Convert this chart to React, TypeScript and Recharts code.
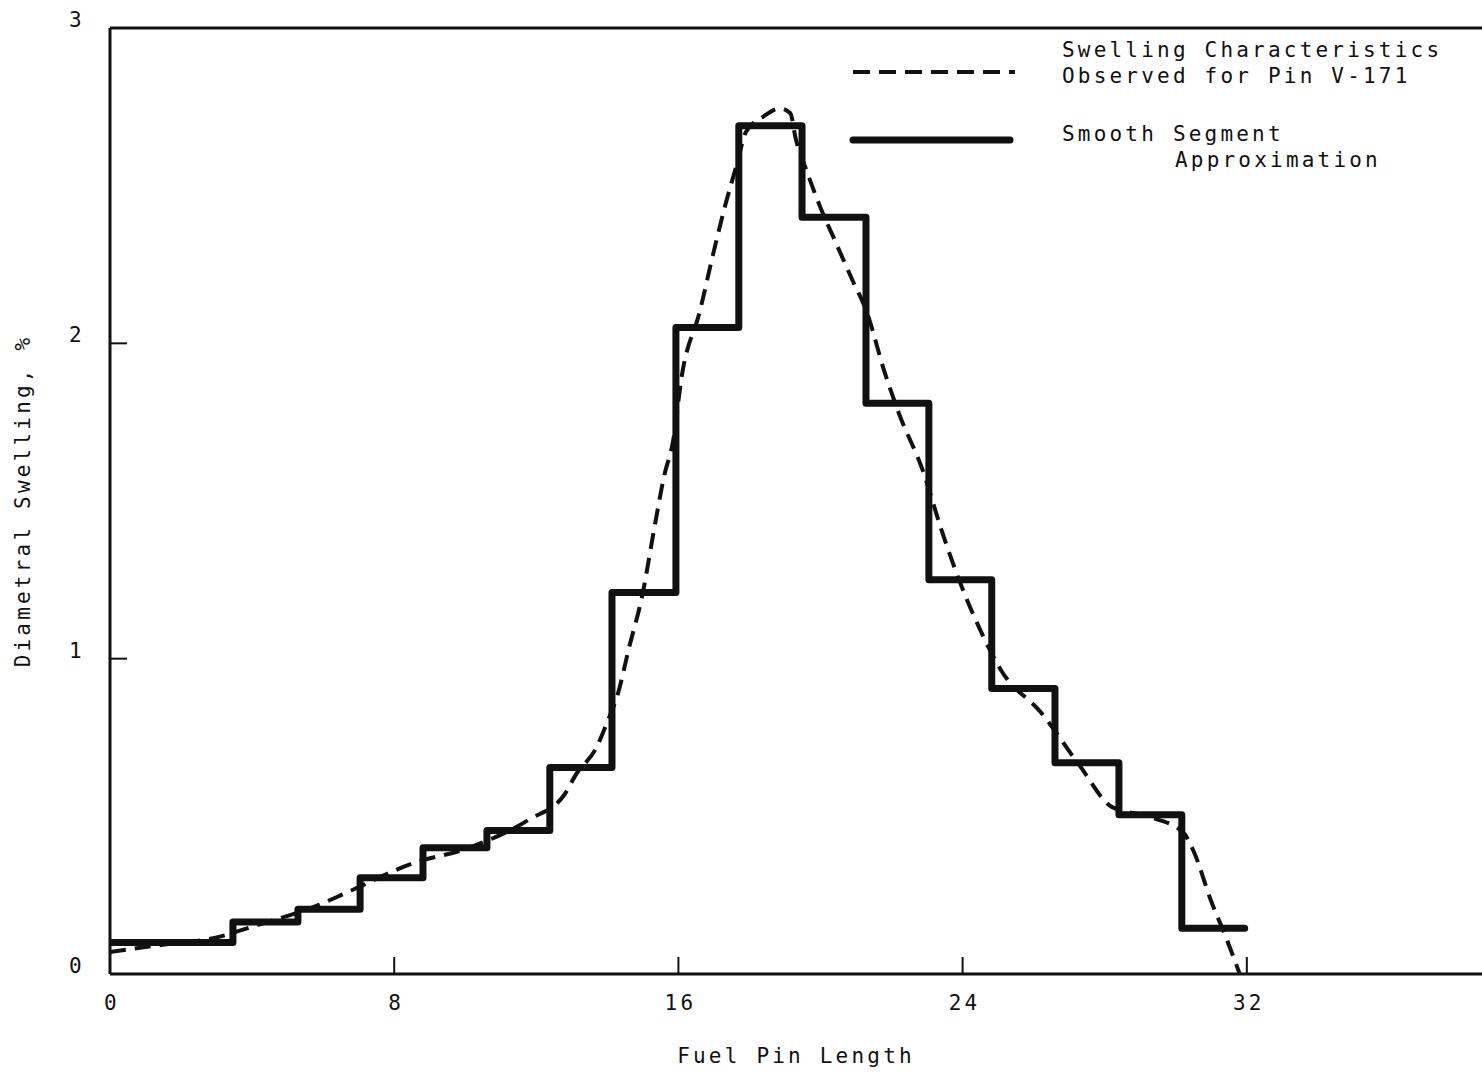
import React from "react"
import { LineChart, Line, XAxis, YAxis, ReferenceLine, Legend, Label } from "recharts"

const FONT = '"DejaVu Sans Mono", monospace'
const INK = "#111"

// Swelling measured along pin V-171 (length, % diametral swelling)
const observedLength = [
  0, 1.3, 3.15, 4.0, 5.9, 6.7, 8.5, 10.1, 11.8, 12.8, 13.1, 13.7, 14.0, 14.3, 14.6, 15.0, 15.3, 15.6,
  15.85, 16.1, 16.6, 16.95, 17.3, 17.65, 17.9, 18.4, 18.85, 19.15, 19.3, 19.6, 20.0, 20.35, 20.9, 21.3,
  21.8, 22.2, 22.9, 23.4, 23.9, 24.5, 25.1, 26.2, 27.3, 28.2, 29.2, 30.2, 30.5, 31.0, 31.4, 31.8,
]
const observedSwelling = [
  0.07, 0.09, 0.12, 0.15, 0.22, 0.26, 0.35, 0.4, 0.49, 0.57, 0.63, 0.72, 0.8, 0.89, 1.03, 1.21, 1.4, 1.58,
  1.69, 1.9, 2.1, 2.27, 2.43, 2.57, 2.67, 2.72, 2.745, 2.73, 2.65, 2.55, 2.43, 2.34, 2.2, 2.1,
  1.91, 1.78, 1.59, 1.41, 1.25, 1.09, 0.96, 0.83, 0.66, 0.53, 0.5, 0.45, 0.39, 0.23, 0.12, 0,
]

// Segment approximation: each level holds from its start to the next start
const segmentStart = [
  0, 3.46, 5.29, 7.04, 8.81, 10.61, 12.38, 14.13, 15.93, 17.7, 19.48, 21.28, 23.05, 24.82, 26.6, 28.4, 30.17, 31.94,
]
const segmentLevel = [
  0.1, 0.165, 0.205, 0.305, 0.4, 0.455, 0.655, 1.21, 2.05, 2.69, 2.4, 1.81, 1.25, 0.905, 0.67, 0.505, 0.145, 0.145,
]

const lengthTicks = [0, 8, 16, 24, 32]
const swellingTicks = [0, 1, 2, 3]

const observedData = observedLength.map((x, i) => ({ x, y: observedSwelling[i] }))
const segmentData = segmentStart.map((x, i) => ({ x, y: segmentLevel[i] }))

const textStyle = { fontFamily: FONT, fontSize: 21, letterSpacing: 3.2, fill: INK }

// ticks point into the plot, labels sit outside
const LengthTick = ({ x, y, payload }: any) => (
  <g>
    <line x1={x} y1={y} x2={x} y2={y - 17} stroke={INK} strokeWidth={2} />
    <text x={x + 2} y={y + 29} textAnchor="middle" dominantBaseline="central" {...textStyle}>
      {payload.value}
    </text>
  </g>
)

const SwellingTick = ({ x, y, payload }: any) => (
  <g>
    <line x1={x} y1={y} x2={x + 17} y2={y} stroke={INK} strokeWidth={2} />
    <text x={x - 33} y={y - 8} textAnchor="middle" dominantBaseline="central" {...textStyle}>
      {payload.value}
    </text>
  </g>
)

const LegendBox = () => (
  <svg width={640} height={150}>
    <line x1={8} y1={42} x2={170} y2={42} stroke={INK} strokeWidth={4} strokeDasharray="17 9" />
    <line x1={8} y1={110} x2={165} y2={110} stroke={INK} strokeWidth={7} strokeLinecap="round" />
    <text x={217} y={20} dominantBaseline="central" {...textStyle}>Swelling Characteristics</text>
    <text x={217} y={46} dominantBaseline="central" {...textStyle}>Observed for Pin V-171</text>
    <text x={217} y={104} dominantBaseline="central" {...textStyle}>Smooth Segment</text>
    <text x={330} y={130} dominantBaseline="central" {...textStyle}>Approximation</text>
  </svg>
)

export default function App() {
  return (
    <div style={{ position: "absolute", left: 0, top: 0, width: 1482, height: 1072, background: "#fff" }}>
      <LineChart width={1482} height={1072} margin={{ top: 28, right: 0, left: 0, bottom: 0 }}>
        <XAxis
          type="number"
          dataKey="x"
          domain={[0, 38.62]}
          ticks={lengthTicks}
          interval={0}
          height={98}
          tickSize={0}
          tickMargin={0}
          tickLine={false}
          tick={<LengthTick />}
          axisLine={{ stroke: INK, strokeWidth: 3 }}
          allowDataOverflow
        >
          <Label
            content={({ viewBox }: any) => (
              <text
                x={viewBox.x + viewBox.width / 2}
                y={viewBox.y + 82}
                textAnchor="middle"
                dominantBaseline="central"
                {...textStyle}
              >
                Fuel Pin Length
              </text>
            )}
          />
        </XAxis>
        <YAxis
          type="number"
          dataKey="y"
          domain={[0, 3]}
          ticks={swellingTicks}
          interval={0}
          width={110}
          tickSize={0}
          tickMargin={0}
          tickLine={false}
          tick={<SwellingTick />}
          axisLine={{ stroke: INK, strokeWidth: 3 }}
        >
          <Label
            content={({ viewBox }: any) => {
              const cx = 23
              const cy = viewBox.y + viewBox.height / 2
              return (
                <text
                  x={cx}
                  y={cy}
                  textAnchor="middle"
                  dominantBaseline="central"
                  transform={`rotate(-90 ${cx} ${cy})`}
                  {...textStyle}
                >
                  Diametral Swelling, %
                </text>
              )
            }}
          />
        </YAxis>

        {/* top edge of the frame */}
        <ReferenceLine y={3} stroke={INK} strokeWidth={3} />

        <Legend
          layout="horizontal"
          verticalAlign="middle"
          align="center"
          wrapperStyle={{ left: 845, top: 30, width: 640, height: 150 }}
          content={() => <LegendBox />}
        />

        <Line
          data={observedData}
          dataKey="y"
          type="monotone"
          stroke={INK}
          strokeWidth={4}
          strokeDasharray="16 9"
          dot={false}
          isAnimationActive={false}
        />
        <Line
          data={segmentData}
          dataKey="y"
          type="stepAfter"
          stroke={INK}
          strokeWidth={7}
          strokeLinejoin="round"
          strokeLinecap="round"
          dot={false}
          isAnimationActive={false}
        />
      </LineChart>
    </div>
  )
}
